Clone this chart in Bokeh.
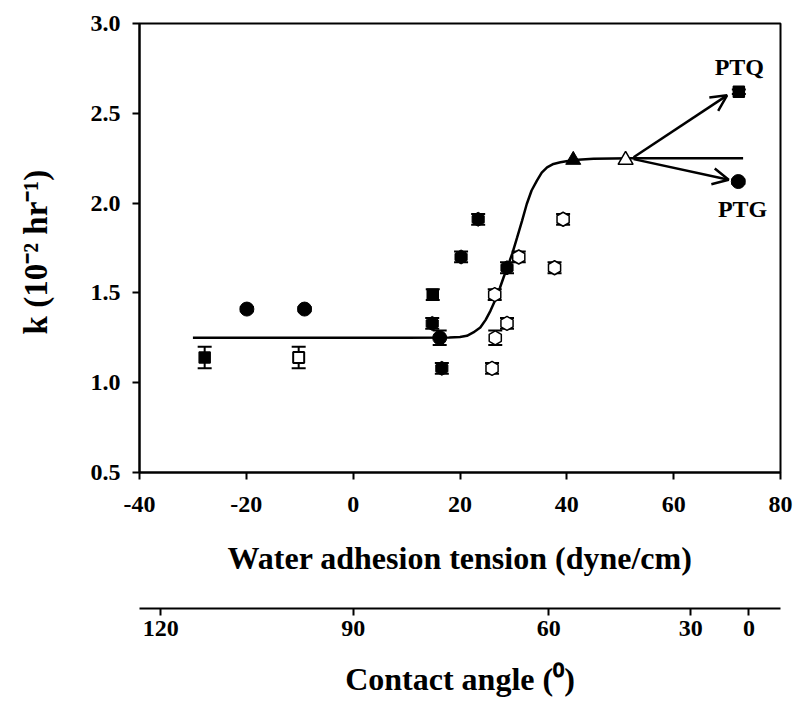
from bokeh.plotting import figure
from bokeh.models import (ColumnDataSource, Whisker, TeeHead, Arrow, OpenHead,
                          LinearAxis, FixedTicker, NumeralTickFormatter, Range1d)
from bokeh.layouts import column
from bokeh.core.properties import value
from bokeh.embed import file_html
from bokeh.resources import INLINE
import numpy as np

# ---------------- data ----------------
# filled squares
fsq_x = [-27.8, 14.9, 72.2]
fsq_k = [1.14, 1.49, 2.62]
fsq_err = [0.06, 0.03, 0.012]
# open square
osq_x = [-10.2]
osq_k = [1.14]
osq_err = [0.06]
# filled circles
fci_x = [-19.9, -9.1, 16.2, 72.1]
fci_k = [1.41, 1.41, 1.25, 2.12]
fci_err = [0.012, 0.012, 0.04, 0.012]
# filled hexagons
fhex_x = [14.8, 16.6, 20.2, 23.4, 28.8]
fhex_k = [1.33, 1.08, 1.70, 1.91, 1.64]
fhex_err = [0.03, 0.03, 0.03, 0.03, 0.03]
# open hexagons
ohex_x = [26.5, 26.6, 26.0, 28.8, 31.0, 37.7, 39.3]
ohex_k = [1.49, 1.25, 1.08, 1.33, 1.70, 1.64, 1.91]
ohex_err = [0.03, 0.04, 0.03, 0.03, 0.03, 0.03, 0.03]
# triangles
ftri_x = [41.2]
ftri_k = [2.24]
otri_x = [51.0]
otri_k = [2.24]
# fitted curve
fit_x = [-30.0, 10.0, 18.0, 20.0, 21.3, 22.5, 23.8, 24.8, 25.7, 26.6, 27.5, 28.2,
         28.8, 29.8, 30.7, 31.6, 32.5, 33.4, 34.4, 35.3, 36.3, 37.5, 38.8, 41.3,
         45.0, 52.0, 73.0]
fit_k = [1.25, 1.25, 1.252, 1.255, 1.261, 1.28, 1.307, 1.35, 1.40, 1.46, 1.53, 1.59,
         1.638, 1.72, 1.809, 1.90, 1.995, 2.07, 2.125, 2.17, 2.199, 2.218, 2.227, 2.24,
         2.247, 2.25, 2.25]
# arrows
arrow_x0 = [52.5, 52.5]
arrow_k0 = [2.255, 2.245]
arrow_x1 = [70.0, 70.3]
arrow_k1 = [2.60, 2.13]
# annotations
label_x = [72.3, 72.9]
label_k = [2.756, 1.967]
label_text = ["PTQ", "PTG"]
# ticks
x_ticks = [-40, -20, 0, 20, 40, 60, 80]
k_ticks = [0.5, 1.0, 1.5, 2.0, 2.5, 3.0]
angle_labels = ["120", "90", "60", "30", "0"]
angle_pos = [-36.0, 0.0, 36.6, 63.2, 74.1]

FONT = "Liberation Serif"
W = 800

p = figure(width=W, height=592, x_range=Range1d(-40, 80), y_range=Range1d(0.5, 3.0),
           output_backend="svg", toolbar_location=None,
           min_border_left=139, min_border_right=20, min_border_top=23,
           min_border_bottom=120)
p.grid.visible = False
p.outline_line_color = "black"
p.outline_line_width = 2
p.background_fill_color = "white"
p.border_fill_color = "white"


def style_axis(ax):
    ax.axis_line_width = 2
    ax.axis_line_color = "black"
    ax.major_tick_line_width = 2
    ax.major_tick_line_color = "black"
    ax.major_tick_out = 7
    ax.major_tick_in = 0
    ax.minor_tick_line_color = None
    ax.major_label_text_font = FONT
    ax.major_label_text_font_style = "bold"
    ax.major_label_text_font_size = "24px"
    ax.major_label_text_color = "black"
    ax.axis_label_text_font = FONT
    ax.axis_label_text_font_style = "bold"
    ax.axis_label_text_font_size = "32px"
    ax.axis_label_text_color = "black"


style_axis(p.xaxis[0])
style_axis(p.yaxis[0])

p.xaxis[0].ticker = FixedTicker(ticks=x_ticks)
p.xaxis[0].formatter = NumeralTickFormatter(format="0")
p.xaxis[0].major_label_standoff = 17
p.xaxis[0].axis_label = "Water adhesion tension (dyne/cm)"
p.xaxis[0].axis_label_standoff = 25

p.yaxis[0].ticker = FixedTicker(ticks=k_ticks)
p.yaxis[0].formatter = NumeralTickFormatter(format="0.0")
p.yaxis[0].major_label_standoff = 12
p.yaxis[0].axis_label = "k  (10\u207b\u00b2 hr\u207b\u00b9)"
p.yaxis[0].axis_label_text_font_size = "33px"
p.yaxis[0].axis_label_standoff = 34

# fitted curve
p.line(fit_x, fit_k, line_color="black", line_width=2.5)


# error bars
def whiskers(xs, ks, errs):
    src = ColumnDataSource(dict(x=xs, upper=[k + e for k, e in zip(ks, errs)],
                                lower=[k - e for k, e in zip(ks, errs)]))
    w = Whisker(source=src, base="x", upper="upper", lower="lower",
                line_color="black", line_width=2,
                upper_head=TeeHead(size=14, line_width=2, line_color="black"),
                lower_head=TeeHead(size=14, line_width=2, line_color="black"))
    p.add_layout(w)


whiskers(fsq_x, fsq_k, fsq_err)
whiskers(osq_x, osq_k, osq_err)
whiskers(fci_x, fci_k, fci_err)
whiskers(fhex_x, fhex_k, fhex_err)
whiskers(ohex_x, ohex_k, ohex_err)

# markers
p.scatter(fsq_x, fsq_k, marker="square", size=11, fill_color="black", line_color="black", line_width=1.5)
p.scatter(osq_x, osq_k, marker="square", size=11, fill_color="white", line_color="black", line_width=2)
p.scatter(fci_x, fci_k, marker="circle", size=14, fill_color="black", line_color="black")
p.scatter(fhex_x, fhex_k, marker="hex", size=14, angle=np.pi / 2, fill_color="black", line_color="black")
p.scatter(ohex_x, ohex_k, marker="hex", size=14, angle=np.pi / 2, fill_color="white", line_color="black", line_width=1.5)
p.scatter(ftri_x, ftri_k, marker="triangle", size=15, fill_color="black", line_color="black")
p.scatter(otri_x, otri_k, marker="triangle", size=15, fill_color="white", line_color="black", line_width=1.5)

# arrows
for x0, k0, x1, k1 in zip(arrow_x0, arrow_k0, arrow_x1, arrow_k1):
    p.add_layout(Arrow(x_start=x0, y_start=k0, x_end=x1, y_end=k1,
                       line_color="black", line_width=2.5,
                       end=OpenHead(size=16, line_width=2.5, line_color="black")))

p.text(label_x, label_k, text=label_text, text_font=value(FONT), text_font_style="bold",
       text_font_size="24px", text_color="black", text_align="center", text_baseline="middle")

# ---------------- secondary axis: contact angle ----------------
p2 = figure(width=W, height=112, x_range=p.x_range, y_range=Range1d(0, 1),
            x_axis_location=None, y_axis_location=None,
            output_backend="svg", toolbar_location=None,
            min_border_left=139, min_border_right=20, min_border_top=0,
            min_border_bottom=96)
p2.grid.visible = False
p2.outline_line_color = None
p2.background_fill_color = "white"
p2.border_fill_color = "white"
ax2 = LinearAxis(ticker=FixedTicker(ticks=angle_pos),
                 major_label_overrides={pos: lab for pos, lab in zip(angle_pos, angle_labels)},
                 axis_label="Contact angle (\u2070)")
style_axis(ax2)
ax2.major_label_standoff = 5
ax2.axis_label_standoff = 22
p2.add_layout(ax2, "below")

layout = column(p, p2, spacing=0)
open("out.html", "w").write(file_html(layout, INLINE))
